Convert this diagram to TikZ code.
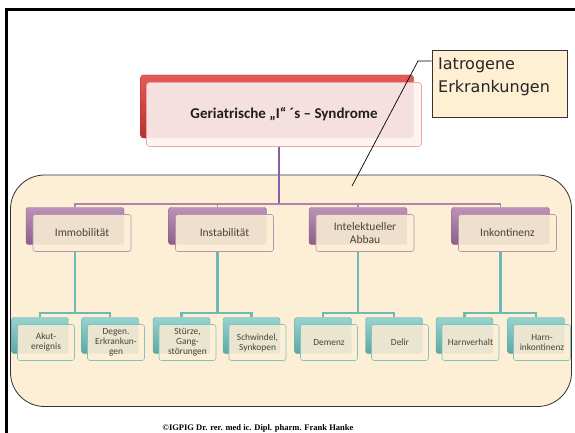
\documentclass[tikz,border=0pt]{standalone}
\usepackage{fontspec}
\setmainfont{Carlito}
\newfontfamily\tahomafont{DejaVu Sans}
\newfontfamily\footfont{Liberation Serif}
\usetikzlibrary{calc}
\pgfdeclarelayer{bg}
\pgfsetlayers{bg,main}
\definecolor{cream}{HTML}{FDEFD6}
\definecolor{txt}{HTML}{4A4334}
\definecolor{redT}{HTML}{E35B56}
\definecolor{redB}{HTML}{B5322D}
\definecolor{redBorder}{HTML}{E8A6A4}
\definecolor{l0ov}{HTML}{F6E0DF}
\definecolor{l0fill}{HTML}{FDF3F3}
\definecolor{purT}{HTML}{BC93B8}
\definecolor{purB}{HTML}{8C5F88}
\definecolor{purBorder}{HTML}{B793B3}
\definecolor{l1ov}{HTML}{EEE0CC}
\definecolor{tealT}{HTML}{96D3CF}
\definecolor{tealB}{HTML}{5EA8A4}
\definecolor{tealBorder}{HTML}{80C3BF}
\definecolor{l2ov}{HTML}{EAE5D1}
\definecolor{mainLine}{HTML}{8461A8}
\definecolor{busLine}{HTML}{AE84AA}
\definecolor{tealLine}{HTML}{6DB9B5}
\definecolor{iatFill}{HTML}{FFF0D4}
\newcommand\mkbox[5]{%
  \node[#4back] (#1b) at (#2,#3) {};
  \node[#4front, path picture={\fill[#4ov] (path picture bounding box.north west) rectangle (#1b.south east);}] (#1) at (#2,#3) {#5};
}
\begin{document}
\begin{tikzpicture}[x=1pt,y=-1pt,
  l0back/.style={draw=redB, line width=0.4pt, top color=redT, bottom color=redB, rounded corners=3pt,
    minimum width=273pt, minimum height=63pt, inner sep=0pt},
  l0front/.style={draw=redBorder, line width=0.6pt, fill=l0fill, rounded corners=3pt,
    minimum width=275pt, minimum height=64pt, inner sep=0pt, xshift=7pt, yshift=-8pt,
    font=\bfseries\fontsize{15}{17}\selectfont, text=black!88},
  l1back/.style={draw=purB, line width=0.4pt, top color=purT, bottom color=purB, rounded corners=2.5pt,
    minimum width=98pt, minimum height=37pt, inner sep=0pt},
  l1front/.style={draw=purBorder, line width=0.6pt, fill=cream, rounded corners=2.5pt,
    minimum width=98pt, minimum height=37pt, inner sep=0pt, xshift=7pt, yshift=-7pt,
    font=\fontsize{11.5}{13.5}\selectfont, text=txt, align=center},
  l2back/.style={draw=tealB, line width=0.4pt, top color=tealT, bottom color=tealB, rounded corners=2.5pt,
    minimum width=57pt, minimum height=36pt, inner sep=0pt},
  l2front/.style={draw=tealBorder, line width=0.6pt, fill=cream, rounded corners=2.5pt,
    minimum width=57pt, minimum height=36pt, inner sep=0pt, xshift=6pt, yshift=-7pt,
    font=\fontsize{9.4}{10}\selectfont, text=txt, align=center},
  mainline/.style={draw=mainLine, line width=2.2pt},
  busline/.style={draw=busLine, line width=1.8pt},
  tealline/.style={draw=tealLine, line width=2.2pt},
  callout/.style={draw=black, line width=0.7pt},
]
\useasboundingbox (0,0) rectangle (575,433);
\begin{pgfonlayer}{bg}
  \fill[white] (0,0) rectangle (575,433);
  \draw[black, line width=3.5pt] (6.5,436) -- (6.5,9.5) -- (576,9.5);
  \draw[fill=cream, draw=black!80, line width=0.8pt, rounded corners=34pt] (10.5,175) rectangle (571.5,406.5);
\end{pgfonlayer}

% top node
\mkbox{m}{277}{106.5}{l0}{Geriatrische „I“ ´s – Syndrome}

% level 1
\mkbox{i1}{75}{226}{l1}{Immobilität}
\mkbox{i2}{217.5}{226}{l1}{Instabilität}
\mkbox{i3}{358}{226}{l1}{Intelektueller\\Abbau}
\mkbox{i4}{500.5}{226}{l1}{Inkontinenz}

% level 2
\mkbox{s1}{40}{335.5}{l2}{Akut-\\ereignis}
\mkbox{s2}{110}{335.5}{l2}{Degen.\\Erkrankun-\\gen}
\mkbox{s3}{181.5}{335.5}{l2}{Stürze,\\Gang-\\störungen}
\mkbox{s4}{251.5}{335.5}{l2}{Schwindel,\\Synkopen}
\mkbox{s5}{323}{335.5}{l2}{Demenz}
\mkbox{s6}{394}{335.5}{l2}{Delir}
\mkbox{s7}{464.5}{335.5}{l2}{Harnverhalt}
\mkbox{s8}{536}{335.5}{l2}{Harn-\\inkontinenz}

% callout box
\node[draw=black!80, line width=0.9pt, fill=iatFill, minimum width=135pt, minimum height=67pt, inner sep=0pt] (iat) at (499.5,83.5) {};
\node[anchor=north west, inner sep=0pt, align=left, font=\tahomafont\fontsize{16}{23}\selectfont, text=black!85] (iattext) at (438,58) {Iatrogene\\Erkrankungen};
\coordinate (ck) at (418,61);
\coordinate (ce) at (352,186);
\draw[callout] (iat.west |- ck) -- (ck) -- (ce);

% footer
\node[anchor=base, inner sep=0pt, font=\footfont\bfseries\fontsize{8.5}{10}\selectfont] (foot) at (258,430.5) {©IGPIG Dr. rer. med ic. Dipl. pharm. Frank Hanke};

% connectors
\coordinate (bus0) at (279,204);
\coordinate (t1) at (75,313);
\coordinate (t2) at (217.5,313);
\coordinate (t3) at (358,313);
\coordinate (t4) at (500.5,313);
\begin{pgfonlayer}{bg}
  \draw[mainline] (m.south -| bus0) -- (bus0);
  \draw[busline] (i1b.north) |- (bus0) -| (i4b.north);
  \draw[busline] (i2b.north) -- (i2b.north |- bus0);
  \draw[busline] (i3b.north) -- (i3b.north |- bus0);
  \draw[tealline] (i1b.south) -- (t1);
  \draw[tealline] (i2b.south) -- (t2);
  \draw[tealline] (i3b.south) -- (t3);
  \draw[tealline] (i4b.south) -- (t4);
  \draw[tealline] (s1b.north) |- (t1) -| (s2b.north);
  \draw[tealline] (s3b.north) |- (t2) -| (s4b.north);
  \draw[tealline] (s5b.north) |- (t3) -| (s6b.north);
  \draw[tealline] (s7b.north) |- (t4) -| (s8b.north);
\end{pgfonlayer}
\end{tikzpicture}
\end{document}
